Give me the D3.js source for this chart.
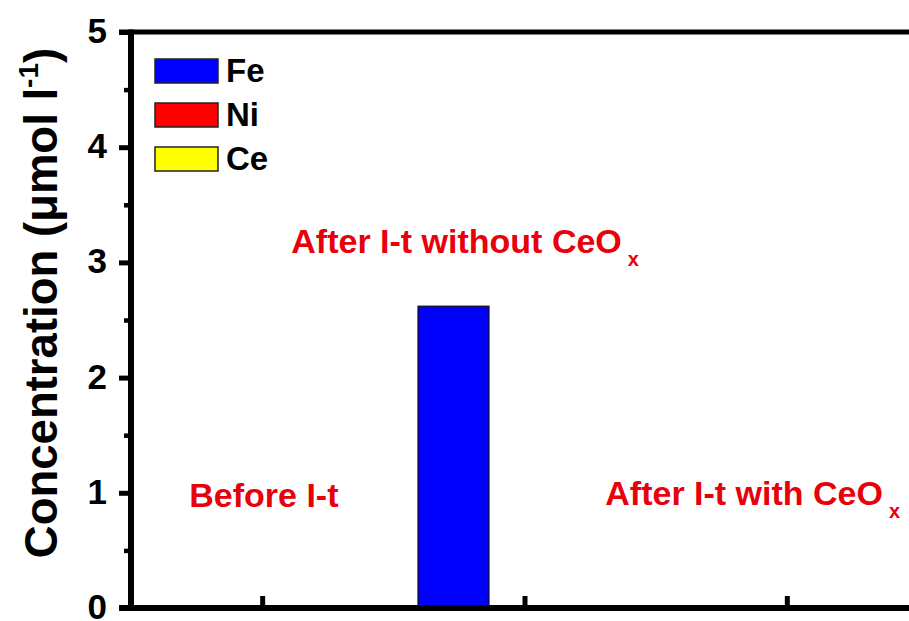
<!DOCTYPE html>
<html>
<head>
<meta charset="utf-8">
<script src="https://cdn.jsdelivr.net/npm/d3@7"></script>
<style>
  html, body { margin: 0; padding: 0; background: #fff; }
  svg { display: block; }
  text { font-family: Arial, "Liberation Sans", Helvetica, sans-serif; font-weight: bold; }
</style>
</head>
<body>
<svg id="chart" width="909" height="621"></svg>
<script>
// Metal ion concentrations in the electrolyte (µmol l-1)
const categories = ["Before I-t", "After I-t without CeOx", "After I-t with CeOx"];
const seriesNames = ["Fe", "Ni", "Ce"];
const feValues = [0, 2.62, 0];
const niValues = [0, 0, 0];
const ceValues = [0, 0, 0];
const seriesColors = ["#0000ff", "#ff0000", "#ffff00"];
const yTickValues = [0, 1, 2, 3, 4, 5];
const yMinorTickValues = [0.5, 1.5, 2.5, 3.5, 4.5];

// Annotation text: main text, subscript, anchor (category units, value units)
const annotations = [
  { text: "Before I-t", sub: "", cx: -0.278, cy: 0.877 },
  { text: "After I-t without CeO", sub: "x", cx: 0.111, cy: 3.08 },
  { text: "After I-t with CeO", sub: "x", cx: 1.308, cy: 0.894 }
];

const series = seriesNames.map((name, i) => ({
  name,
  color: seriesColors[i],
  values: [feValues, niValues, ceValues][i]
}));

const svg = d3.select("#chart");
const plotLeft = 131, plotRight = 918, plotTop = 32, plotBottom = 608;

const x = d3.scaleLinear().domain([-0.5, categories.length - 0.5]).range([plotLeft, plotRight]);
const y = d3.scaleLinear().domain([0, 5]).range([plotBottom, plotTop]);
const barW = 71;
const offset = d3.scaleBand().domain(seriesNames).range([-1.5 * barW, 1.5 * barW]);

// Bars
const g = svg.append("g");
series.forEach(s => {
  g.selectAll(null)
    .data(s.values.map((v, i) => ({ v, i })))
    .join("rect")
    .attr("x", d => x(d.i) + offset(s.name))
    .attr("y", d => y(d.v))
    .attr("width", offset.bandwidth())
    .attr("height", d => y(0) - y(d.v))
    .attr("fill", s.color)
    .attr("stroke", "#111")
    .attr("stroke-width", 1.2);
});

// Left axis with major and minor ticks
const yAxis = d3.axisLeft(y).tickValues(yTickValues).tickSize(12).tickPadding(12).tickFormat(d3.format("d"));
const yAxisG = svg.append("g").attr("transform", `translate(${plotLeft},0)`).call(yAxis);
yAxisG.select(".domain").remove();
yAxisG.selectAll(".tick line").attr("stroke", "#000").attr("stroke-width", 5);
yAxisG.selectAll(".tick text").attr("font-size", 35).attr("fill", "#000").attr("dy", "0.3em");

const yMinor = d3.axisLeft(y).tickValues(yMinorTickValues).tickSize(7).tickFormat("");
const yMinorG = svg.append("g").attr("transform", `translate(${plotLeft},0)`).call(yMinor);
yMinorG.select(".domain").remove();
yMinorG.selectAll(".tick line").attr("stroke", "#000").attr("stroke-width", 4.5);

// Bottom axis: inward ticks at category centres
const xAxis = d3.axisBottom(x).tickValues(d3.range(categories.length)).tickSize(-12).tickFormat("");
const xAxisG = svg.append("g").attr("transform", `translate(0,${plotBottom})`).call(xAxis);
xAxisG.select(".domain").remove();
xAxisG.selectAll(".tick line").attr("stroke", "#000").attr("stroke-width", 5);

// Frame lines
svg.append("line").attr("x1", plotLeft).attr("x2", plotLeft).attr("y1", plotTop - 2.5).attr("y2", plotBottom + 3)
  .attr("stroke", "#000").attr("stroke-width", 6);
svg.append("line").attr("x1", plotLeft - 12).attr("x2", plotRight).attr("y1", plotBottom).attr("y2", plotBottom)
  .attr("stroke", "#000").attr("stroke-width", 6);
svg.append("line").attr("x1", plotLeft - 12).attr("x2", plotRight).attr("y1", plotTop).attr("y2", plotTop)
  .attr("stroke", "#000").attr("stroke-width", 5);
svg.append("line").attr("x1", plotRight).attr("x2", plotRight).attr("y1", plotTop).attr("y2", plotBottom)
  .attr("stroke", "#000").attr("stroke-width", 5);

// Y axis title
const title = svg.append("text")
  .attr("transform", `translate(57,303) rotate(-90)`)
  .attr("text-anchor", "middle")
  .attr("font-size", 45.5)
  .attr("fill", "#000");
title.append("tspan").text("Concentration (\u03bcmol l");
title.append("tspan").attr("font-size", 28).attr("dy", -19).text("-1");
title.append("tspan").attr("dy", 19).text(")");

// Legend
const legend = svg.append("g").attr("transform", "translate(155,59)");
series.forEach((s, i) => {
  const row = legend.append("g").attr("transform", `translate(0,${i * 44})`);
  row.append("rect").attr("width", 63).attr("height", 24)
    .attr("fill", s.color).attr("stroke", "#222").attr("stroke-width", 1.5);
  row.append("text").attr("x", 71).attr("y", 23).attr("font-size", 33).attr("fill", "#000").text(s.name);
});

// Red annotations
annotations.forEach(a => {
  const t = svg.append("text")
    .attr("x", x(a.cx)).attr("y", y(a.cy))
    .attr("font-size", 34).attr("fill", "#e8000b");
  t.append("tspan").text(a.text);
  if (a.sub) t.append("tspan").attr("font-size", 20).attr("dx", 6).attr("dy", 13).text(a.sub);
});
</script>
</body>
</html>
